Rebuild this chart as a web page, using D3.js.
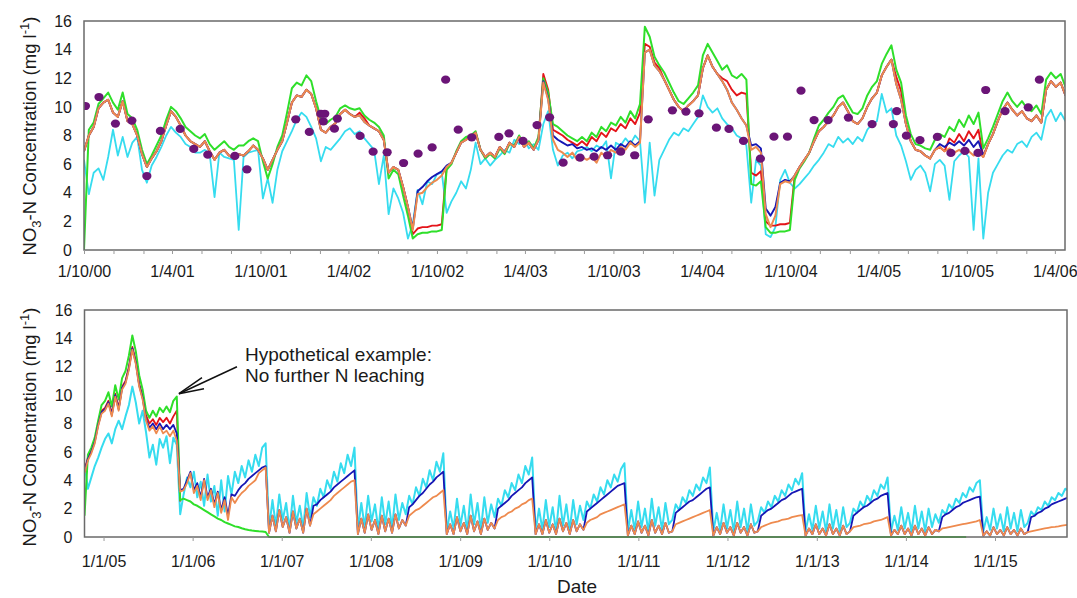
<!DOCTYPE html>
<html><head><meta charset="utf-8">
<script src="https://cdn.jsdelivr.net/npm/d3@7"></script>
<style>body{margin:0;background:#fff;}svg{display:block;font-family:Arial,"Liberation Sans",sans-serif;}</style>
</head><body>
<svg id="chart" width="1077" height="598"></svg>
<script>
// ---------------- DATA ----------------
const yTicks = [0, 2, 4, 6, 8, 10, 12, 14, 16];

// top panel: 10-day values from 1 Oct 2000
const topStart = "2000-10-01", topEnd = "2006-04-22", topStepDays = 10;
const topTickDates = ["2000-10-01","2001-04-01","2001-10-01","2002-04-01","2002-10-01","2003-04-01","2003-10-01","2004-04-01","2004-10-01","2005-04-01","2005-10-01","2006-04-01"];
const topTickLabels = ["1/10/00","1/4/01","1/10/01","1/4/02","1/10/02","1/4/03","1/10/03","1/4/04","1/10/04","1/4/05","1/10/05","1/4/06"];

const topCyan = [6.3,3.9,5.4,5.7,4.9,6.5,8.4,6.6,7.9,6.5, 7.5,7.9,5.6,4.7,5.9,6.5,7.2,8.0,8.6,8.2,
 7.9,7.4,7.2,6.8,6.8,7.0,6.7,3.7,6.8,6.5, 6.4,6.3,1.4,6.5,6.8,6.9,7.0,3.6,5.0,3.3,
 5.6,6.9,7.6,8.3,9.1,9.6,9.3,8.6,7.8,6.2, 7.2,7.0,7.4,7.8,8.3,8.5,8.1,8.3,7.8,7.4,
 7.0,4.6,6.6,2.5,4.3,3.6,2.6,0.8,1.8,4.2, 3.2,4.8,4.6,5.3,5.4,2.6,3.4,4.0,4.8,4.3,
 5.6,7.5,6.0,6.4,5.9,6.3,6.6,7.0,6.8,7.7, 7.4,7.8,7.1,7.4,7.0,8.8,9.7,7.0,5.9,6.6,
 6.8,6.4,6.9,7.0,7.2,6.9,7.3,7.1,7.6,5.0, 7.5,7.3,7.8,7.4,8.0,7.6,3.3,7.5,3.8,6.3,
 7.0,7.7,8.2,8.0,8.5,8.3,8.8,9.3,10.8,10.0, 9.6,9.9,9.2,8.8,8.5,8.0,7.8,7.3,3.3,6.3,
 5.9,1.1,0.9,1.6,4.9,5.6,4.7,4.3,4.6,5.0, 5.4,5.9,6.3,6.8,7.4,7.2,7.9,7.5,7.8,7.4,
 7.9,7.6,8.4,8.8,9.0,10.9,9.6,9.9,8.0,7.3, 6.2,4.9,5.6,5.9,5.4,4.1,6.0,6.3,5.9,3.5,
 6.2,6.6,6.9,6.5,1.4,6.4,0.8,4.0,5.4,6.0, 6.6,7.0,6.8,7.4,7.6,7.2,7.9,8.2,7.7,9.3,
 9.8,9.0,9.6,9.0];
const topRed = [6.9,8.0,8.6,9.9,10.3,10.5,9.6,9.3,10.4,9.0, 8.8,8.0,6.7,5.8,6.4,6.9,7.6,8.7,9.7,9.3,
 8.7,8.0,7.6,7.4,7.2,7.6,6.9,6.3,6.8,7.0, 6.6,6.4,6.7,6.6,6.9,7.3,7.0,6.4,5.6,6.3,
 7.0,7.6,8.9,10.3,10.8,10.7,11.2,10.9,9.9,8.4, 8.2,8.6,8.85,9.5,9.8,9.5,9.3,9.6,9.2,8.7,
 8.5,8.3,7.7,5.4,5.8,5.6,4.4,3.0,1.1,1.5, 1.6,1.6,1.7,1.7,1.8,5.8,6.1,6.8,7.5,7.7,
 7.9,8.2,7.0,6.5,6.8,6.5,7.2,6.8,7.5,7.2, 7.9,7.2,7.5,7.0,7.7,12.3,11.2,8.4,8.2,8.0,
 7.7,7.5,7.3,7.6,7.3,7.9,7.6,8.2,7.9,8.5, 8.3,8.8,8.5,9.2,8.8,9.6,14.4,14.2,13.1,12.7,
 11.9,11.2,10.5,10.0,9.7,10.1,10.4,10.8,12.7,13.6, 12.8,12.3,12.0,11.8,11.2,10.8,11.0,10.9,5.4,5.2,
 5.5,2.0,1.7,1.7,1.8,1.8,1.9,5.2,5.8,6.3, 6.8,7.6,8.3,8.6,9.0,9.4,10.0,10.3,9.7,9.0,
 8.8,9.2,10.0,10.6,11.0,12.2,12.8,13.3,12.1,11.1, 8.8,7.6,7.0,6.9,6.6,6.4,7.0,7.2,6.9,7.8,
 7.5,8.1,7.6,8.3,7.8,8.4,6.5,7.4,8.1,9.0, 9.8,10.3,9.8,9.4,9.7,9.2,9.0,9.4,8.9,11.2,
 11.8,11.4,11.7,10.8];
const topGreen = [0,8.4,8.9,10.2,10.6,11.0,10.3,9.8,11.0,9.5, 9.2,8.4,7.0,6.0,6.6,7.3,8.0,9.1,10.0,9.7,
 9.2,8.6,8.3,8.0,7.8,8.1,7.4,7.0,7.3,7.6, 7.2,7.0,7.3,7.3,7.6,7.8,7.6,6.2,5.0,6.0,
 7.2,8.0,9.6,11.3,11.7,11.5,12.2,11.8,10.4,9.2, 8.8,9.1,9.3,9.9,10.1,9.9,9.8,9.9,9.4,9.1,
 8.9,8.6,8.0,5.0,5.6,5.3,3.8,2.4,0.8,1.1, 1.2,1.2,1.3,1.3,1.4,5.6,6.0,6.9,7.6,7.9,
 8.0,8.3,7.0,6.4,6.7,6.4,7.1,6.7,7.4,7.3, 8.0,7.3,7.6,7.1,7.9,12.0,11.0,8.8,8.6,8.3,
 8.0,7.8,7.6,7.9,7.6,8.2,7.9,8.6,8.3,8.9, 8.7,9.3,8.9,9.7,9.2,10.2,15.6,14.9,13.5,12.9,
 12.4,11.7,11.0,10.4,10.2,10.6,11.0,11.5,13.6,14.4, 13.8,13.2,12.6,12.9,12.2,12.0,12.3,11.9,4.6,4.5,
 4.8,1.6,1.2,1.2,1.3,1.3,1.4,4.9,5.7,6.2, 6.8,7.8,8.7,9.1,9.6,10.0,10.6,10.8,10.2,9.6,
 9.5,9.9,10.8,11.4,11.8,13.0,13.7,14.3,12.6,11.7, 9.4,8.1,7.4,7.3,7.1,7.0,7.7,8.1,7.9,8.6,
 8.3,9.1,8.6,9.4,8.8,9.6,7.1,7.8,8.6,9.5, 10.4,11.0,10.4,10.0,10.4,9.9,9.7,10.1,9.5,11.9,
 12.4,12.0,12.3,11.4];
const topBlue = [6.9,8.0,8.6,9.9,10.3,10.5,9.6,9.3,10.4,9.0, 8.8,8.0,6.7,5.8,6.4,6.9,7.6,8.7,9.7,9.3,
 8.7,8.0,7.6,7.4,7.2,7.6,6.9,6.3,6.8,7.0, 6.6,6.4,6.7,6.6,6.9,7.3,7.0,6.4,5.6,6.3,
 7.0,7.6,8.9,10.3,10.8,10.7,11.2,10.9,9.9,8.4, 8.2,8.6,8.85,9.5,9.8,9.5,9.3,9.4,8.95,8.7,
 8.5,8.3,7.7,5.4,5.8,5.6,4.4,3.0,1.5,4.1, 4.4,4.8,5.1,5.3,5.5,5.9,6.1,6.8,7.5,7.7,
 7.9,8.2,7.0,6.5,6.8,6.5,7.2,6.8,7.5,7.2, 7.9,7.2,7.5,7.0,7.7,11.8,10.6,8.0,7.7,7.5,
 7.3,7.4,7.1,7.2,7.0,7.1,6.9,7.2,7.0,7.3, 7.0,7.4,7.2,7.6,7.3,7.6,13.8,14.0,12.9,12.5,
 11.9,11.2,10.5,10.0,9.7,10.1,10.4,10.8,12.7,13.6, 12.8,12.3,11.8,11.2,10.3,9.8,9.2,8.7,7.3,7.4,
 7.1,2.9,2.4,3.0,4.7,4.9,4.8,5.2,5.8,6.3, 6.8,7.6,8.3,8.6,9.0,9.4,10.0,10.3,9.7,9.0,
 8.8,9.2,10.0,10.6,11.0,12.2,12.8,13.3,11.6,10.5, 8.8,7.6,7.0,6.9,6.6,6.4,7.0,7.4,7.2,7.5,
 7.3,7.6,7.3,7.7,7.2,7.6,6.6,7.4,8.1,9.0, 9.8,10.3,9.8,9.4,9.7,9.2,9.0,9.4,8.9,11.2,
 11.8,11.4,11.7,10.8];
const topOrange = [6.9,8.0,8.6,9.9,10.3,10.5,9.6,9.3,10.4,9.0, 8.8,8.0,6.7,5.8,6.4,6.9,7.6,8.7,9.7,9.3,
 8.7,8.0,7.6,7.4,7.2,7.6,6.9,6.3,6.8,7.0, 6.6,6.4,6.7,6.6,6.9,7.3,7.0,6.4,5.6,6.3,
 7.0,7.6,8.9,10.3,10.8,10.7,11.2,10.9,9.9,8.4, 8.2,8.6,8.85,9.5,9.8,9.5,9.3,9.4,8.95,8.7,
 8.5,8.3,7.7,5.4,5.8,5.6,4.4,3.0,1.4,3.9, 4.0,4.4,4.7,4.9,5.2,5.8,6.1,6.8,7.5,7.7,
 7.9,8.2,7.0,6.5,6.8,6.5,7.2,6.8,7.5,7.2, 7.9,7.2,7.5,7.0,7.7,11.7,10.5,7.7,7.0,6.8,
 6.5,6.8,6.3,6.5,6.3,6.5,6.1,6.8,6.5,7.0, 6.8,7.2,7.0,7.5,7.2,7.5,13.8,14.0,12.9,12.5,
 11.9,11.2,10.5,10.0,9.7,10.1,10.4,10.8,12.7,13.6, 12.8,12.3,11.8,11.2,10.3,9.8,9.2,8.7,7.0,7.2,
 6.8,2.5,1.6,2.4,4.6,4.8,4.7,5.2,5.8,6.3, 6.8,7.6,8.3,8.6,9.0,9.4,10.0,10.3,9.7,9.0,
 8.8,9.2,10.0,10.6,11.0,12.2,12.8,13.3,11.6,10.5, 8.8,7.6,7.0,6.9,6.6,6.4,7.0,7.2,6.9,7.1,
 6.8,7.0,6.7,6.9,6.6,6.8,6.5,7.4,8.1,9.0, 9.8,10.3,9.8,9.4,9.7,9.2,9.0,9.4,8.9,11.2,
 11.8,11.4,11.7,10.8];

// observed values (purple dots), top panel
const obsDates = ["2000-10-04","2000-11-01","2000-12-05","2001-01-08","2001-02-08","2001-03-08","2001-04-18","2001-05-16","2001-06-14","2001-08-09","2001-09-03",
 "2001-12-13","2002-01-10","2002-02-03","2002-02-08","2002-02-11","2002-03-03","2002-03-09","2002-04-25","2002-05-22","2002-06-20","2002-07-24","2002-08-23","2002-09-21",
 "2002-10-19","2002-11-14","2002-12-12","2003-02-06","2003-02-27","2003-03-28","2003-04-26","2003-05-22","2003-06-19","2003-07-24","2003-08-22","2003-09-19","2003-10-16",
 "2003-11-14","2003-12-12","2004-01-31","2004-02-28","2004-03-26","2004-05-01","2004-05-27","2004-06-26","2004-07-31","2004-08-28","2004-09-25","2004-10-23","2004-11-19",
 "2004-12-18","2005-01-29","2005-03-19","2005-05-02","2005-05-09","2005-05-29","2005-06-26","2005-08-01","2005-08-29","2005-09-27","2005-10-24","2005-11-09","2005-12-19",
 "2006-02-05","2006-02-28"];
const obsValues = [10.06,10.69,8.83,9.04,5.17,8.32,8.46,7.06,6.66,6.57,5.64,
 9.13,8.25,9.52,8.99,9.52,8.48,9.18,7.97,6.87,6.83,6.08,6.73,7.17,
 11.9,8.41,7.87,7.9,8.15,7.62,8.73,9.27,6.1,6.45,6.52,6.62,6.87,
 6.62,9.13,9.76,9.67,9.55,8.55,8.46,7.62,6.38,7.92,7.92,11.13,9.08,
 9.08,9.25,8.8,8.8,9.71,7.99,7.67,7.9,6.78,6.92,6.78,11.18,9.71,
 9.97,11.9];

// bottom panel: 14-day values from 15 Oct 2004
const botStart = "2004-10-15", botEnd = "2015-10-23", botStepDays = 14;
const botTickDates = ["2005-01-01","2006-01-01","2007-01-01","2008-01-01","2009-01-01","2010-01-01","2011-01-01","2012-01-01","2013-01-01","2014-01-01","2015-01-01"];
const botTickLabels = ["1/1/05","1/1/06","1/1/07","1/1/08","1/1/09","1/1/10","1/1/11","1/1/12","1/1/13","1/1/14","1/1/15"];

const botCyan = [5.2,3.4,4.2,5.0,5.6,6.3,6.9,7.3,6.6,7.6, 8.2,7.6,8.5,9.3,10.6,9.5,8.0,8.9,7.4,5.6,
 6.5,5.1,6.9,6.3,7.1,5.2,7.0,6.5,1.6,3.0, 4.2,3.5,4.6,2.8,3.9,2.2,4.4,2.5,3.6,1.5,
 4.0,1.8,4.3,3.0,4.6,3.8,5.0,4.2,5.4,4.6, 5.8,5.0,6.3,6.6,0.6,2.6,0.8,3.0,1.2,2.4,
 0.5,2.9,1.0,2.2,0.6,3.1,1.4,2.8,2.2,3.4, 2.8,4.0,3.4,4.6,3.9,5.2,4.5,5.8,5.0,6.3,
 0.5,2.4,0.7,2.9,1.1,2.3,0.5,2.8,0.9,2.5, 0.6,3.0,1.2,2.4,1.6,2.9,2.3,3.5,2.9,4.1,
 3.5,4.7,4.0,5.3,4.6,5.9,0.4,1.8,0.6,2.7, 0.8,2.2,0.4,3.0,0.9,2.4,0.5,2.8,1.0,2.3,
 1.4,2.7,2.2,3.3,2.8,3.8,3.3,4.4,3.8,5.0, 4.4,5.6,0.4,2.0,0.5,2.6,0.7,2.1,0.4,2.9,
 0.8,2.3,0.5,2.6,0.9,2.2,1.2,2.5,2.0,3.0, 2.5,3.5,3.0,4.0,3.5,4.4,3.9,4.8,5.2,0.4,
 1.9,0.5,2.5,0.7,2.0,0.4,2.7,0.8,2.1,0.5, 2.4,0.9,1.2,2.3,1.9,2.8,2.4,3.3,2.9,3.7,
 3.3,4.2,3.8,4.9,0.4,1.7,0.5,2.3,0.6,1.9, 0.4,2.5,0.7,2.0,0.4,2.3,0.8,1.1,2.1,1.7,
 2.5,2.1,2.9,2.5,3.3,2.9,3.7,3.3,4.1,3.7, 4.5,0.4,1.6,0.5,2.2,0.6,1.8,0.4,2.3,0.6,
 1.9,0.4,2.1,0.7,1.0,2.0,1.7,2.5,2.1,2.9, 2.5,3.3,2.9,3.7,3.4,4.2,0.4,1.5,0.5,2.1,
 0.6,1.7,0.4,2.2,0.6,1.8,0.4,2.0,0.7,1.6, 1.0,1.9,1.6,2.3,2.0,2.7,2.4,3.1,2.8,3.5,
 3.2,3.8,4.0,0.4,1.4,0.5,2.0,0.6,1.6,0.4, 2.1,0.6,1.7,0.4,1.9,0.7,1.0,1.8,1.5,2.1,
 1.9,2.5,2.2,2.8,2.6,3.1,2.9,3.4,3.3];
const botRed = [4.7,5.6,6.1,6.8,8.0,8.9,9.1,9.6,8.7,10.1, 9.1,10.6,11.0,12.0,13.4,12.4,10.8,9.9,8.6,8.0,
 8.3,7.9,8.4,8.1,8.4,8.0,8.5,8.9,2.5];
const botGreen = [1.5,5.8,6.3,7.0,8.2,9.3,9.6,10.2,9.2,10.7, 9.7,11.2,11.7,12.8,14.2,13.1,11.4,10.4,8.9,8.4,
 8.9,8.5,9.1,8.8,9.2,8.8,9.6,9.9,2.6,2.7, 2.6,2.5,2.3,2.2,2.05,1.9,1.75,1.6,1.45,1.3,
 1.2,1.05,0.95,0.85,0.75,0.7,0.62,0.55,0.5,0.46, 0.43,0.4,0.38,0.35,0,0,0,0,0,0,
 0,0,0,0,0,0,0,0,0,0, 0,0,0,0,0,0,0,0,0,0, 0,0,0,0,0,0,0,0,0,0, 0,0,0,0,0,0,0,0,0,0,
 0,0,0,0,0,0,0,0,0,0, 0,0,0,0,0,0,0,0,0,0, 0,0,0,0,0,0,0,0,0,0, 0,0,0,0,0,0,0,0,0,0,
 0,0,0,0,0,0,0,0,0,0, 0,0,0,0,0,0,0,0,0,0, 0,0,0,0,0,0,0,0,0,0, 0,0,0,0,0,0,0,0,0,0,
 0,0,0,0,0,0,0,0,0,0, 0,0,0,0,0,0,0,0,0,0, 0,0,0,0,0,0,0,0,0,0, 0,0,0,0,0,0,0,0,0,0,
 0,0,0,0,0,0,0,0,0,0, 0,0,0,0,0,0,0,0,0,0, 0,0,0,0,0,0,0,0,0,0, 0,0,0,0,0,0,0,0,0];
const botBlue = [4.6,5.5,6.0,6.7,7.9,8.8,9.0,9.5,8.6,10.0, 9.0,10.5,10.9,11.9,13.3,12.3,10.7,9.8,8.3,7.7,
 8.0,7.6,8.0,7.6,7.9,7.6,7.9,7.3,3.3,
 3.4,4.0,4.6,3.3,3.8,2.8,4.1,2.8,3.4,2.3,3.2,1.9,2.8,1.5,
 3.0,2.9,3.3,3.6,3.8,4.1,4.3,4.5,4.7,4.9,5.0,
 0.3,1.5,0.4,1.9,0.7,1.4,0.3,1.8,0.6,1.3,0.3,2.0,0.8,
 2.2,2.3,2.6,2.8,3.0,3.2,3.5,3.7,3.9,4.1,4.3,4.5,4.7,
 0.2,1.3,0.3,1.6,0.5,1.2,0.2,1.5,0.4,1.3,0.3,1.6,0.6,1.2,0.8,
 2.1,2.3,2.6,2.9,3.1,3.4,3.7,3.9,4.2,4.4,4.6,
 0.2,0.9,0.2,1.4,0.4,1.0,0.2,1.5,0.4,1.1,0.2,1.3,0.5,1.0,0.6,
 2.0,2.2,2.4,2.6,2.9,3.1,3.3,3.5,3.8,4.0,4.2,
 0.2,0.9,0.2,1.2,0.3,0.9,0.2,1.3,0.4,1.0,0.2,1.2,0.4,0.9,0.5,
 1.8,2.0,2.2,2.4,2.6,2.8,3.0,3.2,3.4,3.6,3.7,3.8,
 0.1,0.8,0.2,1.1,0.3,0.8,0.1,1.2,0.3,0.8,0.2,1.0,0.3,0.4,
 1.7,1.9,2.1,2.3,2.5,2.6,2.8,3.0,3.2,3.4,3.5,
 0.1,0.7,0.2,1.0,0.3,0.7,0.1,1.0,0.3,0.7,0.1,0.9,0.3,0.4,
 1.5,1.7,1.9,2.0,2.2,2.4,2.6,2.7,2.9,3.1,3.2,3.3,3.4,
 0.1,0.6,0.2,0.9,0.2,0.6,0.1,0.9,0.2,0.6,0.1,0.8,0.2,0.4,
 1.5,1.7,1.9,2.1,2.2,2.4,2.6,2.7,2.9,3.0,3.1,
 0.1,0.5,0.2,0.8,0.2,0.6,0.1,0.8,0.2,0.6,0.1,0.7,0.2,0.5,0.4,
 1.4,1.6,1.7,1.9,2.1,2.2,2.4,2.5,2.6,2.7,2.8,2.85,
 0.1,0.4,0.1,0.7,0.2,0.5,0.1,0.7,0.2,0.5,0.1,0.6,0.2,0.35,
 1.4,1.5,1.7,1.8,2.0,2.1,2.3,2.4,2.5,2.6,2.7,2.8];
const botOrange = [4.5,5.4,5.9,6.6,7.8,8.7,8.9,9.4,8.5,9.9, 8.9,10.4,10.8,11.8,13.2,12.2,10.6,9.7,8.2,7.5,
 7.8,7.3,7.8,7.3,7.5,7.1,7.5,6.8,3.2,3.3, 3.8,4.5,3.1,3.6,2.6,4.0,2.6,3.3,2.1,3.1,
 1.7,2.6,1.2,2.8,2.4,2.8,3.1,3.3,3.6,3.8, 4.0,4.5,4.7,4.9,0.3,1.5,0.4,1.9,0.7,1.4,
 0.3,1.8,0.6,1.3,0.3,2.0,0.8,1.6,1.8,2.0, 2.2,2.4,2.6,2.9,3.1,3.3,3.5,3.7,3.9,4.0,
 0.2,1.3,0.3,1.6,0.5,1.2,0.2,1.5,0.4,1.3, 0.3,1.6,0.6,1.2,0.8,1.5,1.7,1.9,2.0,2.2,
 2.4,2.6,2.8,2.9,3.1,3.3,0.2,0.9,0.2,1.4, 0.4,1.0,0.2,1.5,0.4,1.1,0.2,1.3,0.5,1.0,
 0.6,1.2,1.4,1.5,1.7,1.8,2.0,2.1,2.3,2.4, 2.6,2.7,0.2,0.9,0.2,1.2,0.3,0.9,0.2,1.3,
 0.4,1.0,0.2,1.2,0.4,0.9,0.5,1.0,1.2,1.3, 1.4,1.6,1.7,1.8,1.9,2.0,2.1,2.2,2.3,0.1,
 0.8,0.2,1.1,0.3,0.8,0.1,1.2,0.3,0.8,0.2, 1.0,0.3,0.4,0.9,1.0,1.1,1.2,1.3,1.4,1.5,
 1.6,1.7,1.8,1.9,0.1,0.7,0.2,1.0,0.3,0.7, 0.1,1.0,0.3,0.7,0.1,0.9,0.3,0.4,0.7,0.8,
 0.9,1.0,1.05,1.1,1.2,1.25,1.3,1.4,1.45,1.5, 1.55,0.1,0.6,0.2,0.9,0.2,0.6,0.1,0.9,0.2,
 0.6,0.1,0.8,0.2,0.4,0.7,0.75,0.8,0.9,0.95, 1.0,1.1,1.15,1.2,1.3,1.4,0.1,0.5,0.2,0.8,
 0.2,0.6,0.1,0.8,0.2,0.6,0.1,0.7,0.2,0.5, 0.4,0.6,0.65,0.7,0.75,0.8,0.85,0.9,0.95,1.0,
 1.05,1.1,1.2,0.1,0.4,0.1,0.7,0.2,0.5,0.1, 0.7,0.2,0.5,0.1,0.6,0.2,0.35,0.4,0.45,0.5,
 0.55,0.6,0.65,0.7,0.72,0.75,0.8,0.83,0.86];

const annotLines = ["Hypothetical example:", "No further N leaching"];
const annotDate = "2005-11-06", annotValue = 10.1;

// ---------------- STYLE ----------------
const COL = {cyan:"#36dcef", red:"#e4141a", green:"#2fdf2a", blue:"#1616b4", orange:"#ee8a4e", obs:"#6b1577", axis:"#6a6a6a", text:"#1a1a1a"};

// ---------------- DRAW ----------------
const svg = d3.select("#chart");
const P = d3.utcParse("%Y-%m-%d");

function drawPanel(cfg) {
  const x = d3.scaleUtc().domain([P(cfg.start), P(cfg.end)]).range([cfg.x0, cfg.x1]);
  const y = d3.scaleLinear().domain([0, 16]).range([cfg.y1, cfg.y0]);
  const g = svg.append("g");
  const cid = "clip" + cfg.id;
  svg.append("defs").append("clipPath").attr("id", cid).append("rect")
    .attr("x", cfg.x0).attr("y", cfg.y0 - 2).attr("width", cfg.x1 - cfg.x0).attr("height", cfg.y1 - cfg.y0 + 3);

  const s0 = P(cfg.start);
  const lines = g.append("g").attr("clip-path", `url(#${cid})`);
  cfg.series.forEach(s => {
    const line = d3.line()
      .x((d, i) => x(d3.utcDay.offset(s0, i * cfg.step)))
      .y(d => y(d));
    lines.append("path").datum(s.values)
      .attr("d", line).attr("fill", "none").attr("stroke", s.color)
      .attr("stroke-width", s.w).attr("stroke-linejoin", "round");
  });
  if (cfg.obs) {
    lines.selectAll("ellipse.obs").data(cfg.obs.values).join("ellipse")
      .attr("cx", (d, i) => x(P(cfg.obs.dates[i]))).attr("cy", d => y(d))
      .attr("rx", 4.6).attr("ry", 4.1).attr("fill", COL.obs);
  }

  g.append("rect").attr("x", cfg.x0).attr("y", cfg.y0).attr("width", cfg.x1 - cfg.x0).attr("height", cfg.y1 - cfg.y0)
    .attr("fill", "none").attr("stroke", COL.axis).attr("stroke-width", 1.5);

  const minor = d3.axisBottom(x).tickValues(cfg.minorTicks).tickSize(4).tickFormat("");
  const mg = g.append("g").attr("transform", `translate(0,${cfg.y1})`).call(minor);
  mg.select(".domain").remove();
  mg.selectAll("line").attr("stroke", "#9a9a9a");

  const xa = d3.axisBottom(x).tickValues(cfg.tickDates.map(P)).tickSize(0).tickPadding(cfg.xPad)
    .tickFormat((d, i) => cfg.tickLabels[i]);
  const xg = g.append("g").attr("transform", `translate(0,${cfg.y1})`).call(xa);
  xg.select(".domain").remove();
  xg.selectAll("text").attr("font-size", 16).attr("fill", COL.text).attr("font-family", "Arial, 'Liberation Sans', sans-serif");

  const ya = d3.axisLeft(y).tickValues(yTicks).tickSize(0).tickPadding(12);
  const yg = g.append("g").attr("transform", `translate(${cfg.x0},0)`).call(ya);
  yg.select(".domain").remove();
  yg.selectAll("text").attr("font-size", 16).attr("fill", COL.text).attr("font-family", "Arial, 'Liberation Sans', sans-serif");

  const t = g.append("text").attr("transform", `translate(35.5,${cfg.titleCy}) rotate(-90)`)
    .attr("text-anchor", "middle").attr("font-size", 18.5).attr("fill", COL.text);
  t.append("tspan").text("NO");
  t.append("tspan").text("3").attr("font-size", 13).attr("dy", 5);
  t.append("tspan").text("-N Concentration (mg l").attr("dy", -5);
  t.append("tspan").text("-1").attr("font-size", 13).attr("dy", -7);
  t.append("tspan").text(")").attr("dy", 7);
  return {x, y};
}

const panelTop = drawPanel({
  id: "a", x0: 84, x1: 1065, y0: 21, y1: 250, start: topStart, end: topEnd, step: topStepDays,
  series: [
    {values: topCyan, color: COL.cyan, w: 1.8},
    {values: topRed, color: COL.red, w: 1.9},
    {values: topGreen, color: COL.green, w: 2.0},
    {values: topBlue, color: COL.blue, w: 1.9},
    {values: topOrange, color: COL.orange, w: 2.0}
  ],
  obs: {dates: obsDates, values: obsValues},
  tickDates: topTickDates, tickLabels: topTickLabels, xPad: 15.5,
  minorTicks: d3.utcMonth.range(P(topStart), P(topEnd), 2),
  titleCy: 136
});

const panelBot = drawPanel({
  id: "b", x0: 84.5, x1: 1067, y0: 310, y1: 537, start: botStart, end: botEnd, step: botStepDays,
  series: [
    {values: botCyan, color: COL.cyan, w: 2.0},
    {values: botRed, color: COL.red, w: 1.8},
    {values: botGreen, color: COL.green, w: 2.0},
    {values: botBlue, color: COL.blue, w: 1.8},
    {values: botOrange, color: COL.orange, w: 1.8}
  ],
  tickDates: botTickDates, tickLabels: botTickLabels, xPad: 18.5,
  minorTicks: botTickDates.map(P),
  titleCy: 427
});

const tip = [panelBot.x(P(annotDate)), panelBot.y(annotValue)];
const ann = svg.append("g").attr("stroke", "#111").attr("stroke-width", 1.5).attr("fill", "none");
ann.append("line").attr("x1", tip[0]).attr("y1", tip[1]).attr("x2", tip[0] + 58).attr("y2", tip[1] - 27);
ann.append("polyline").attr("points", `${tip[0]+23},${tip[1]-16} ${tip[0]},${tip[1]} ${tip[0]+25},${tip[1]-5}`);
svg.append("text").attr("x", 245).attr("y", 361).attr("font-size", 19).attr("fill", COL.text)
  .selectAll("tspan").data(annotLines).join("tspan")
  .attr("x", 245).attr("dy", (d, i) => i ? 21 : 0).text(d => d);

svg.append("text").attr("x", 577).attr("y", 593).attr("text-anchor", "middle")
  .attr("font-size", 19).attr("fill", COL.text).text("Date");
</script>
</body></html>
